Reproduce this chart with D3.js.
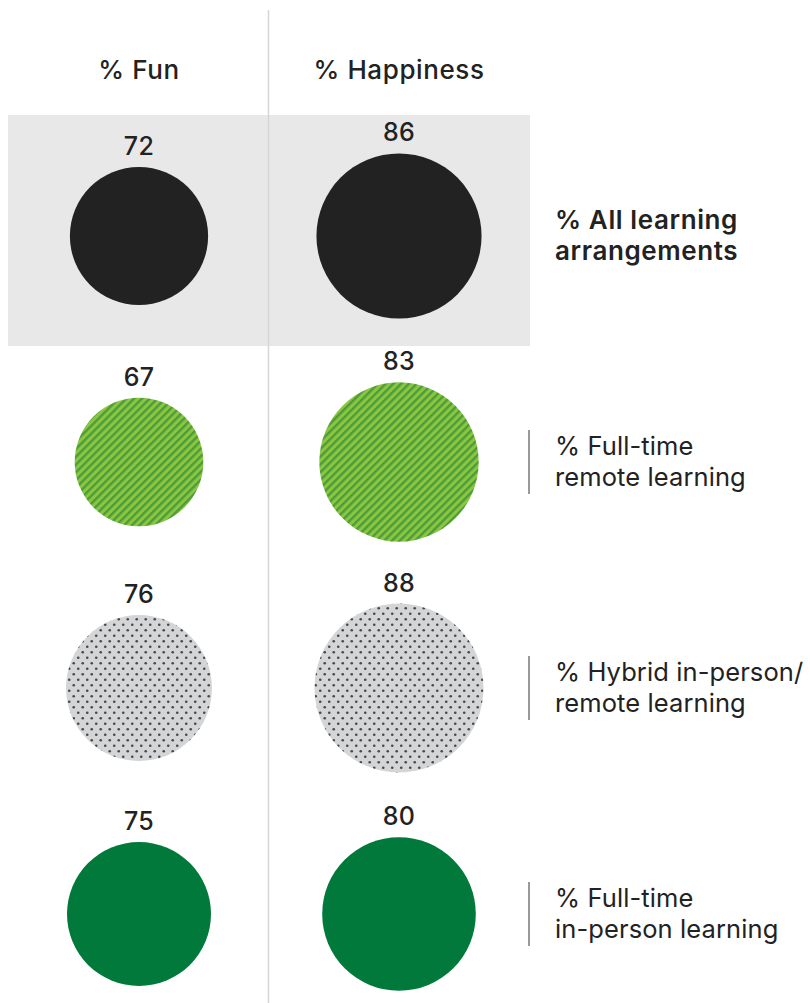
<!DOCTYPE html>
<meta charset="utf-8">
<style>
body{ margin:0; background:#fff; }
text{ font-family: Inter, "Noto Sans", sans-serif; fill:#222; }
.header{ font-size:26px; font-weight:500; text-anchor:middle; letter-spacing:0.6px; }
.val{ font-size:25px; font-weight:500; text-anchor:middle; letter-spacing:0.3px; }
.rowlab{ font-size:25.5px; font-weight:400; letter-spacing:0.1px; }
.rowlab.main{ font-size:26px; font-weight:600; letter-spacing:0.6px; }
</style>
<body>
<script src="https://d3js.org/d3.v7.min.js"></script>
<script>

var metrics = ["% Fun", "% Happiness"];
var rows = ["all", "remote", "hybrid", "inperson"];
var funValues = [72, 67, 76, 75];
var happyValues = [86, 83, 88, 80];
var rowLabels = [
  ["% All learning", "arrangements"],
  ["% Full-time", "remote learning"],
  ["% Hybrid in-person/", "remote learning"],
  ["% Full-time", "in-person learning"]
];
var fills = ["#222222", "url(#hatch)", "url(#dots)", "#00793a"];

var W = 810, H = 1003;
var svg = d3.select("body").append("svg").attr("width", W).attr("height", H);

// patterns
var defs = svg.append("defs");
var hatch = defs.append("pattern").attr("id","hatch")
  .attr("patternUnits","userSpaceOnUse").attr("width",5.5).attr("height",5.5)
  .attr("patternTransform","rotate(45)");
hatch.append("rect").attr("width",5.5).attr("height",5.5).attr("fill","#8cc63f");
hatch.append("rect").attr("width",2.4).attr("height",5.5).attr("fill","#4b9c3c");

var dots = defs.append("pattern").attr("id","dots")
  .attr("patternUnits","userSpaceOnUse").attr("width",9).attr("height",11);
dots.append("rect").attr("width",9).attr("height",11).attr("fill","#d4d5d7");
dots.append("circle").attr("cx",2.25).attr("cy",2.75).attr("r",1.3).attr("fill","#48484a");
dots.append("circle").attr("cx",6.75).attr("cy",8.25).attr("r",1.3).attr("fill","#48484a");

var x = d3.scaleBand().domain(metrics).range([9, 529]);
var y = d3.scalePoint().domain(rows).range([236, 914]);
var r = d3.scaleLinear().domain([0, 100]).range([0, 96]);

// highlight box behind first row
svg.append("rect")
  .attr("x", x.range()[0] - 1).attr("y", y(rows[0]) - 121)
  .attr("width", x.range()[1] - x.range()[0] + 2).attr("height", 231)
  .attr("fill", "#e8e8e8");

// divider between columns
svg.append("line")
  .attr("x1", x(metrics[1]) - 0.5).attr("x2", x(metrics[1]) - 0.5)
  .attr("y1", 10).attr("y2", H)
  .attr("stroke", "#d6d6d6").attr("stroke-width", 1.5);

// headers
svg.selectAll(".header").data(metrics).join("text")
  .attr("class","header")
  .attr("x", d => x(d) + x.bandwidth()/2)
  .attr("y", 79)
  .text(d => d);

var cells = [];
rows.forEach(function(row, i){
  cells.push({row:row, metric:metrics[0], v:funValues[i], fill:fills[i]});
  cells.push({row:row, metric:metrics[1], v:happyValues[i], fill:fills[i]});
});

var g = svg.selectAll(".cell").data(cells).join("g").attr("class","cell")
  .attr("transform", d => "translate(" + (x(d.metric) + x.bandwidth()/2) + "," + y(d.row) + ")");

g.append("circle").attr("r", d => r(d.v)).attr("fill", d => d.fill);
g.append("text").attr("class","val")
  .attr("y", d => -r(d.v) - 12)
  .text(d => d.v);

// row labels
var lab = svg.selectAll(".rlab").data(rows).join("g").attr("class","rlab")
  .attr("transform", d => "translate(555," + y(d) + ")");

lab.filter((d,i) => i > 0).append("line")
  .attr("x1", -26).attr("x2", -26).attr("y1", -32).attr("y2", 32)
  .attr("stroke", "#555").attr("stroke-width", 1.2);

lab.each(function(d, i){
  var t = d3.select(this).append("text")
    .attr("class", "rowlab" + (i === 0 ? " main" : ""));
  t.append("tspan").attr("x", 0).attr("y", -7).text(rowLabels[i][0]);
  t.append("tspan").attr("x", 0).attr("y", 24).text(rowLabels[i][1]);
});

</script>
</body>
